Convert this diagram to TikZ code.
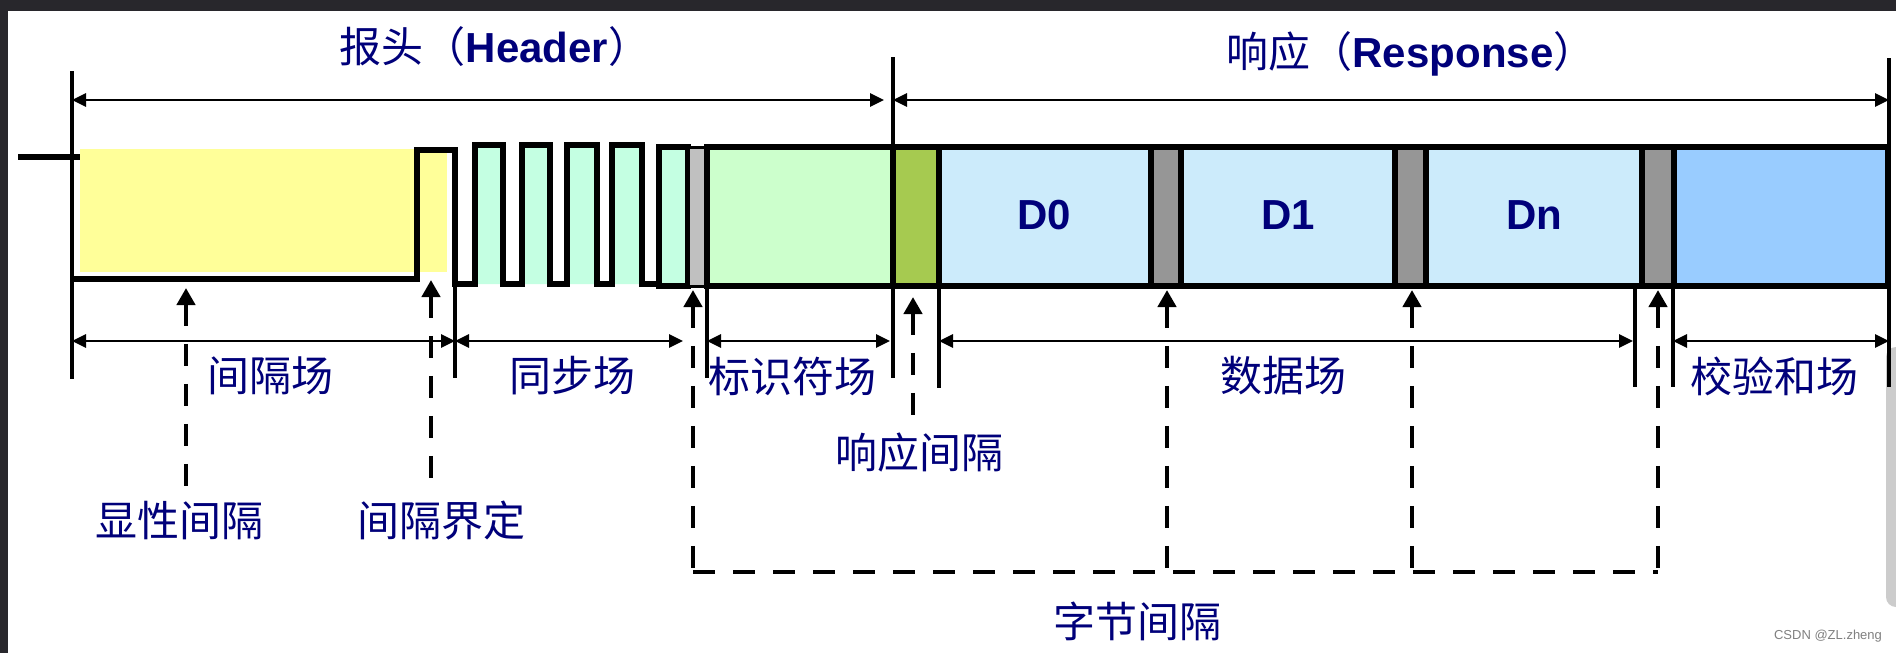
\documentclass[tikz,border=0pt]{standalone}
\usepackage{fontspec}
\setmainfont{Liberation Sans}
\newfontfamily\cjk{Noto Sans CJK SC}
\usetikzlibrary{arrows.meta,positioning}
\definecolor{linnavy}{HTML}{00007A}
\definecolor{linyellow}{HTML}{FFFF99}
\definecolor{linmint}{HTML}{C4FFE2}
\definecolor{linlgray}{HTML}{C0C0C0}
\definecolor{linid}{HTML}{CCFFCC}
\definecolor{linolive}{HTML}{A6CA50}
\definecolor{lindata}{HTML}{CCEBFB}
\definecolor{lingray}{HTML}{969696}
\definecolor{linsum}{HTML}{99CCFF}
\definecolor{framedark}{HTML}{28272C}
\newcommand\latb[1]{{\normalfont\bfseries #1}}

\begin{document}
\begin{tikzpicture}[x=0.5pt,y=-0.5pt,>={Triangle[length=7pt,width=6.5pt]},
    wave/.style={line width=3pt},
    tick/.style={line width=2pt},
    dim/.style={<->,line width=1.4pt},
    gapline/.style={line width=2.4pt,dash pattern=on 11pt off 9pt},
    pointer/.style={gapline,{Triangle[length=8.5pt,width=9pt]}-},
    lbl/.style={text=linnavy,inner sep=0pt,font=\cjk\fontsize{21}{25}\selectfont},
    byte/.style={text=linnavy,inner sep=0pt,font=\bfseries\fontsize{21}{25}\selectfont}]
  \useasboundingbox (0,0) rectangle (1896,653);
  \fill[white] (0,0) rectangle (1896,653);
  \fill[framedark] (0,0) rectangle (1896,11);
  \fill[framedark] (0,0) rectangle (8,653);
  \fill[gray!40,rounded corners=5pt] (1886,347) rectangle (1906,607);

  \fill[linyellow] (80,149) rectangle (447,272);
  \fill[linmint] \foreach \a/\b in {475/503,522/550,567/597,612/642} {(\a,145) rectangle (\b,284)};
  \draw[wave] (18,157) -- (80,157);
  \draw[wave] (72,279) -| (417,150) -| (455,284) \foreach \a/\b in {475/503,522/550,567/597,612/642} {-- (\a,284) |- (\b,145) -- (\b,284)} -- (659,284);
  \filldraw[wave,fill=linmint] (659,147) rectangle (688,286);
  \filldraw[line width=1.5pt,fill=linlgray] (688,147) rectangle (707,286);
  \foreach \a/\b/\c in {707/893/linid,893/939/linolive,939/1151/lindata,1151/1181/lingray,1181/1395/lindata,1395/1426/lingray,1426/1642/lindata,1642/1674/lingray,1674/1888/linsum}
    \filldraw[wave,fill=\c] (\a,147) rectangle (\b,286);
  \node[byte] (d0) at (1044,215) {D0};
  \node[byte] (d1) at (1288,215) {D1};
  \node[byte] (dn) at (1534,215) {Dn};

  \draw[tick] (72,71) -- (72,379);
  \draw[tick] (455,284) -- (455,378);
  \draw[tick] (707,286) -- (707,378);
  \draw[tick] (893,57) -- (893,378);
  \draw[tick] (939,286) -- (939,388);
  \draw[tick] (1635,286) -- (1635,387);
  \draw[tick] (1673,286) -- (1673,387);
  \draw[tick] (1889,58) -- (1889,387);

  \coordinate (hdrL) at (72,100);
  \coordinate (hdrR) at (884,100);
  \coordinate (rspL) at (893,100);
  \coordinate (rspR) at (1889,100);
  \draw[dim] (hdrL) -- (hdrR);
  \draw[dim] (rspL) -- (rspR);
  \node[lbl,anchor=base] (hdr) at (495,62) {报头（\latb{Header}）};
  \node[lbl,anchor=base] (rsp) at (1411,67) {响应（\latb{Response}）};

  \foreach \n/\a/\b/\t/\x in {gap/72/455/间隔场/270,sync/455/683/同步场/572,id/707/890/标识符场/792,data/939/1633/数据场/1283,sum/1673/1889/校验和场/1774} {
    \coordinate (\n-l) at (\a,341);
    \coordinate (\n-r) at (\b,341);
    \draw[dim] (\n-l) -- (\n-r);
    \node[lbl] (\n) at (\x,376) {\t};
  }

  \coordinate (explT) at (186,288);
  \coordinate (explB) at (186,493);
  \coordinate (delimT) at (431,280);
  \coordinate (delimB) at (431,487);
  \coordinate (respT) at (913,297);
  \coordinate (respB) at (913,417);
  \draw[pointer] (explT) -- (explB);
  \draw[pointer] (delimT) -- (delimB);
  \draw[pointer] (respT) -- (respB);
  \node[lbl] (expl) at (179,521) {显性间隔};
  \node[lbl] (delim) at (441,521) {间隔界定};
  \node[lbl] (respgap) at (919,453) {响应间隔};

  \foreach \i/\x in {1/693,2/1167,3/1412,4/1658} {
    \coordinate (bt\i) at (\x,290);
    \coordinate (bb\i) at (\x,572);
    \draw[pointer] (bt\i) -- (bb\i);
  }
  \draw[gapline] (bb1) -- (bb4);
  \node[lbl] (bytegap) at (1137,621) {字节间隔};
  \node[text=gray,inner sep=0pt,font=\fontsize{6.5}{8}\selectfont] (mark) at (1828,636) {CSDN @ZL.zheng};
\end{tikzpicture}
\end{document}
